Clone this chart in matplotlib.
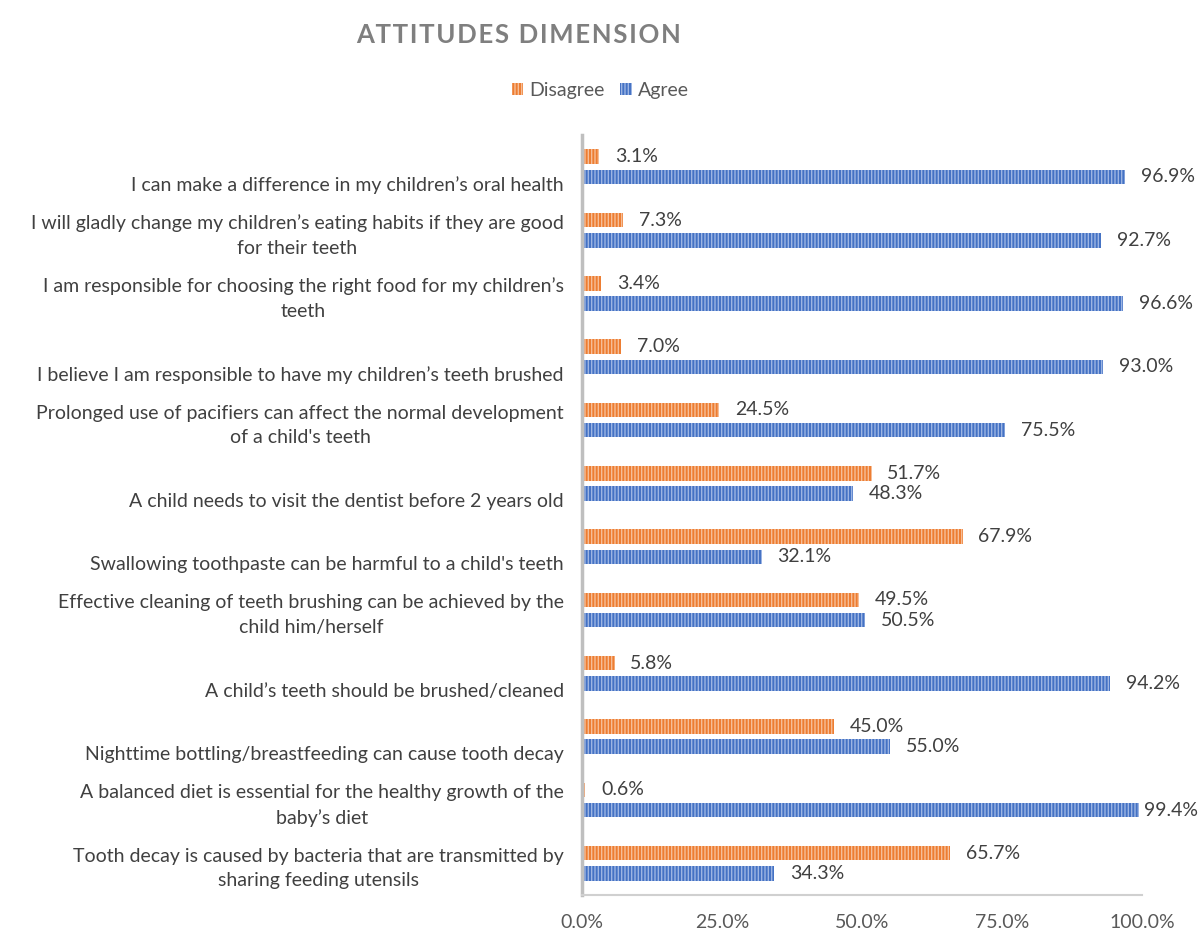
import numpy as np
import matplotlib.pyplot as plt

plt.rcParams['font.family'] = ['Lato', 'DejaVu Sans']

# statements, top to bottom
statements = [
    "\nI can make a difference in my children\u2019s oral health",
    "I will gladly change my children\u2019s eating habits if they are good\nfor their teeth",
    "I am responsible for choosing the right food for my children\u2019s\nteeth",
    "\nI believe I am responsible to have my children\u2019s teeth brushed",
    "Prolonged use of pacifiers can affect the normal development\nof a child's teeth",
    "\nA child needs to visit the dentist before 2 years old",
    "\nSwallowing toothpaste can be harmful to a child's teeth",
    "Effective cleaning of teeth brushing can be achieved by the\nchild him/herself",
    "\nA child\u2019s teeth should be brushed/cleaned",
    "\nNighttime bottling/breastfeeding can cause tooth decay",
    "A balanced diet is essential for the healthy growth of the\nbaby\u2019s diet",
    "Tooth decay is caused by bacteria that are transmitted by\nsharing feeding utensils",
]
disagree = [3.1, 7.3, 3.4, 7.0, 24.5, 51.7, 67.9, 49.5, 5.8, 45.0, 0.6, 65.7]
agree = [96.9, 92.7, 96.6, 93.0, 75.5, 48.3, 32.1, 50.5, 94.2, 55.0, 99.4, 34.3]
xticks = [0, 25, 50, 75, 100]

orange = '#ED7D31'
blue = '#4472C4'
txt = '#404040'
fs = 14

fig = plt.figure(figsize=(12, 9.39), dpi=100)
ax = fig.add_axes([0.485, 0.047, 0.467, 0.809])

y = np.arange(len(statements))
h = 0.23
plt.rcParams['hatch.linewidth'] = 1.0
b1 = ax.barh(y - 0.16, disagree, height=h, color=orange, edgecolor='#F6BE98',
             hatch='|||||', linewidth=0, label='Disagree')
b2 = ax.barh(y + 0.16, agree, height=h, color=blue, edgecolor='#9DB5E3',
             hatch='|||||', linewidth=0, label='Agree')

for yy, v in zip(y - 0.16, disagree):
    ax.text(min(v + 2.8, 100.3), yy, f"{v:.1f}%", va='center', ha='left',
            fontsize=fs, color=txt)
for yy, v in zip(y + 0.16, agree):
    ax.text(min(v + 2.8, 100.3), yy, f"{v:.1f}%", va='center', ha='left',
            fontsize=fs, color=txt)

ax.set_xlim(0, 100)
ax.set_ylim(11.5, -0.5)
ax.set_yticks(y)
ax.set_yticklabels(statements, fontsize=fs, color=txt, ha='right',
                   multialignment='center', linespacing=1.55)
ax.set_xticks(xticks)
ax.set_xticklabels([f"{t:.1f}%" for t in xticks], fontsize=fs, color='#595959')
ax.tick_params(axis='both', length=0)
ax.tick_params(axis='y', pad=13)
ax.tick_params(axis='x', pad=14)

for s in ['top', 'right']:
    ax.spines[s].set_visible(False)
ax.spines['left'].set_color('#BFBFBF')
ax.spines['left'].set_linewidth(2.5)
ax.spines['bottom'].set_color('#D0D0D0')
ax.spines['bottom'].set_linewidth(1.5)

title = "\u200a".join("ATTITUDES DIMENSION")
fig.text(0.432, 0.963, title, ha='center', va='center', fontsize=18.5,
         fontweight='bold', color='#7F7F7F')

fig.legend(handles=[b1, b2], labels=['Disagree', 'Agree'], loc='center',
           bbox_to_anchor=(0.5, 0.904), ncol=2, frameon=False, fontsize=fs,
           handlelength=0.6, handleheight=0.6, handletextpad=0.3, columnspacing=0.8,
           labelcolor='#595959')

fig.savefig('out.png', dpi=100, facecolor='white')
